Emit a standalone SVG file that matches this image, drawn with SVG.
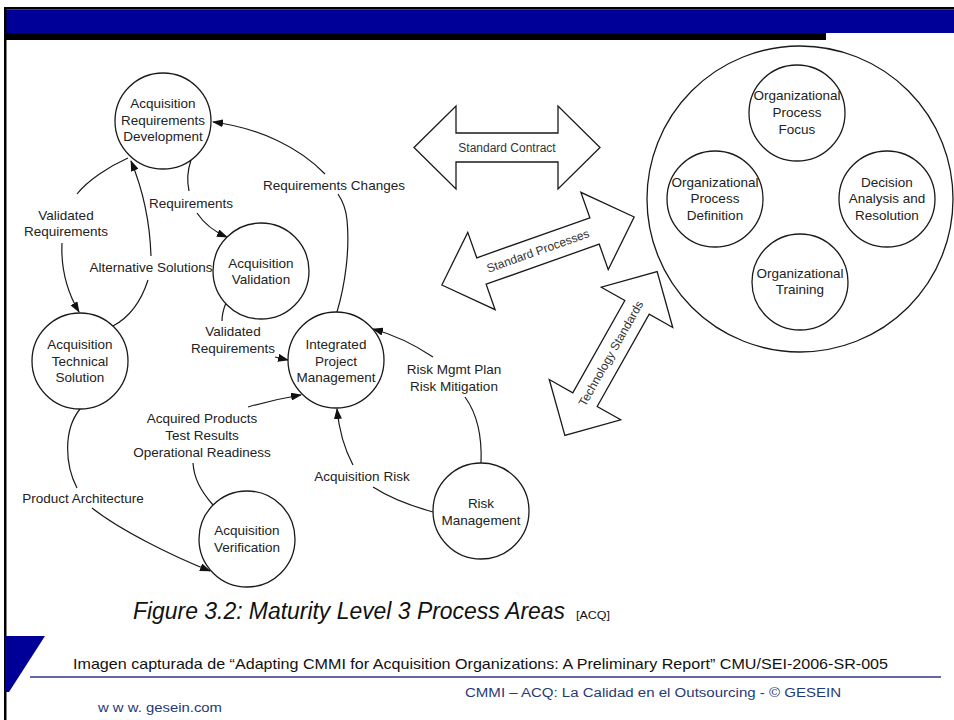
<svg xmlns="http://www.w3.org/2000/svg" width="954" height="720" viewBox="0 0 954 720">
<style>
.node circle{fill:#fff;stroke:#1a1a1a;stroke-width:1.3}
.t{font-family:"Liberation Sans",Arial,sans-serif;font-size:13.5px;fill:#222;text-anchor:middle}
.c path{fill:none;stroke:#1a1a1a;stroke-width:1.2}
.blk{fill:#fff;stroke:#1a1a1a;stroke-width:1.3;stroke-linejoin:miter}
.at{font-family:"Liberation Sans",Arial,sans-serif;font-size:12px;fill:#333;text-anchor:middle}
</style>
<defs>
<marker id="ah" markerWidth="11" markerHeight="8" refX="10" refY="4" orient="auto" markerUnits="userSpaceOnUse">
<path d="M0,0 L11,4 L0,8 Z" fill="#111"/>
</marker>
</defs>
<rect x="0" y="0" width="954" height="720" fill="#fff"/>
<!-- header -->
<rect x="4" y="7" width="950" height="2.5" fill="#000"/>
<rect x="6" y="9.5" width="948" height="23.5" fill="#000099"/>
<rect x="4" y="33" width="822" height="7" fill="#000"/>
<rect x="4" y="7" width="2.5" height="713" fill="#000"/>
<polygon points="5,636 45,636 9,692 5,692" fill="#000099"/>
<line x1="30" y1="677" x2="941" y2="677" stroke="#33338a" stroke-width="1.5"/>

<!-- connectors -->
<g class="c" id="connectors">
<path d="M337,312 C345,285 350,250 347,220 C346,208 342,200 338,194"/>
<path d="M325,174 C300,148 260,128 213,122" marker-end="url(#ah)"/>
<path d="M191,160 C187,172 187,182 189,191"/>
<path d="M197,213 C205,225 215,232 227,237" marker-end="url(#ah)"/>
<path d="M128,158 C110,166 88,180 77,194"/>
<path d="M62,243 C61,265 66,290 79,312" marker-end="url(#ah)"/>
<path d="M113,326 C128,318 140,305 148,280"/>
<path d="M151,256 C150,225 143,190 131,161" marker-end="url(#ah)"/>
<path d="M226,303 C223,310 222,315 222,321"/>
<path d="M275,357 L288,360" marker-end="url(#ah)"/>
<path d="M213,505 C200,490 194,478 193,463"/>
<path d="M248,407 C265,402 283,398 301,395" marker-end="url(#ah)"/>
<path d="M80,409 C63,430 65,465 77,488"/>
<path d="M92,508 C120,530 170,555 210,571" marker-end="url(#ah)"/>
<path d="M433,512 C415,507 390,498 373,487"/>
<path d="M353,465 C345,450 339,430 337,409" marker-end="url(#ah)"/>
<path d="M481,463 C482,440 478,415 465,397"/>
<path d="M433,357 C415,345 395,335 373,329" marker-end="url(#ah)"/>
</g>

<!-- connector labels -->
<g id="labels">
<text class="t" x="334" y="190">Requirements Changes</text>
<text class="t" x="191" y="208">Requirements</text>
<text class="t" x="66" y="220">Validated</text>
<text class="t" x="66" y="236">Requirements</text>
<text class="t" x="151" y="272">Alternative Solutions</text>
<text class="t" x="233" y="336">Validated</text>
<text class="t" x="233" y="353">Requirements</text>
<text class="t" x="202" y="423">Acquired Products</text>
<text class="t" x="202" y="440">Test Results</text>
<text class="t" x="202" y="457">Operational Readiness</text>
<text class="t" x="83" y="503">Product Architecture</text>
<text class="t" x="362" y="481">Acquisition Risk</text>
<text class="t" x="454" y="374">Risk Mgmt Plan</text>
<text class="t" x="454" y="391">Risk Mitigation</text>
</g>

<!-- nodes -->
<g class="node" id="ard"><circle cx="163" cy="121" r="48"/>
<text class="t" x="163" y="108">Acquisition</text><text class="t" x="163" y="124.5">Requirements</text><text class="t" x="163" y="141">Development</text></g>
<g class="node" id="av"><circle cx="261" cy="271" r="48"/>
<text class="t" x="261" y="268">Acquisition</text><text class="t" x="261" y="284">Validation</text></g>
<g class="node" id="ipm"><circle cx="336" cy="360" r="48"/>
<text class="t" x="336" y="349">Integrated</text><text class="t" x="336" y="365.5">Project</text><text class="t" x="336" y="382">Management</text></g>
<g class="node" id="ats"><circle cx="80" cy="361" r="48"/>
<text class="t" x="80" y="349">Acquisition</text><text class="t" x="80" y="365.5">Technical</text><text class="t" x="80" y="382">Solution</text></g>
<g class="node" id="aver"><circle cx="247" cy="539" r="48"/>
<text class="t" x="247" y="535">Acquisition</text><text class="t" x="247" y="552">Verification</text></g>
<g class="node" id="rm"><circle cx="481" cy="511" r="48"/>
<text class="t" x="481" y="508">Risk</text><text class="t" x="481" y="525">Management</text></g>

<g class="node" id="org"><circle cx="800" cy="199" r="153"/></g>
<g class="node" id="opf"><circle cx="797" cy="113" r="48"/>
<text class="t" x="797" y="100">Organizational</text><text class="t" x="797" y="117">Process</text><text class="t" x="797" y="134">Focus</text></g>
<g class="node" id="opd"><circle cx="715" cy="199" r="48"/>
<text class="t" x="715" y="187">Organizational</text><text class="t" x="715" y="203">Process</text><text class="t" x="715" y="220">Definition</text></g>
<g class="node" id="dar"><circle cx="887" cy="199" r="48"/>
<text class="t" x="887" y="187">Decision</text><text class="t" x="887" y="203">Analysis and</text><text class="t" x="887" y="220">Resolution</text></g>
<g class="node" id="ot"><circle cx="800" cy="282" r="48"/>
<text class="t" x="800" y="278">Organizational</text><text class="t" x="800" y="294">Training</text></g>

<!-- block arrows -->
<g id="stdContract">
<polygon class="blk" points="414,147.5 456,106 456,133 558,133 558,106 600,147.5 558,189 558,162 456,162 456,189"/>
<text class="at" x="507" y="152">Standard Contract</text>
</g>
<g id="stdProcesses" transform="translate(538,251) rotate(-19.5)">
<path class="blk" d="M-102,0 L-60,-41 L-60,-14 L60,-14 L60,-41 L102,0 L60,41 L60,14 L-60,14 L-60,41 Z"/>
<text class="at" x="0" y="4" fill="#444">Standard Processes</text>
</g>
<g id="techStandards" transform="translate(611,353.5) rotate(-60.6)">
<path class="blk" d="M-94,0 L-53,-41 L-53,-14 L53,-14 L53,-41 L94,0 L53,41 L53,14 L-53,14 L-53,41 Z"/>
<text class="at" x="0" y="4">Technology Standards</text>
</g>

<!-- captions -->
<text x="133" y="619" font-family="'Liberation Sans',Arial,sans-serif" font-style="italic" font-size="23" fill="#111" textLength="432" lengthAdjust="spacingAndGlyphs">Figure 3.2: Maturity Level 3 Process Areas</text>
<text x="576" y="619" font-family="'Liberation Sans',Arial,sans-serif" font-size="10" fill="#111" textLength="34" lengthAdjust="spacingAndGlyphs">[ACQ]</text>
<text x="73" y="669" font-family="'Liberation Sans',Arial,sans-serif" font-size="14.5" fill="#111" textLength="815" lengthAdjust="spacingAndGlyphs">Imagen capturada de “Adapting CMMI for Acquisition Organizations: A Preliminary Report” CMU/SEI-2006-SR-005</text>
<text x="465" y="697" font-family="'Liberation Sans',Arial,sans-serif" font-size="12.5" fill="#1f3a78" textLength="376" lengthAdjust="spacingAndGlyphs">CMMI – ACQ: La Calidad en el Outsourcing - © GESEIN</text>
<text x="98" y="712" font-family="'Liberation Sans',Arial,sans-serif" font-size="12.5" fill="#1f3a78" textLength="124" lengthAdjust="spacingAndGlyphs">w w w. gesein.com</text>
</svg>
